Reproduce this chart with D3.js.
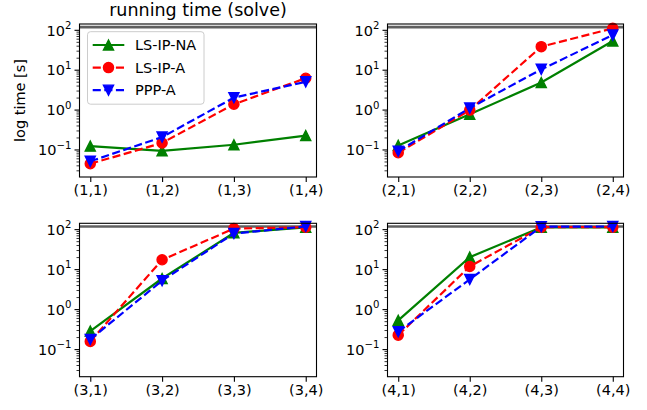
<!DOCTYPE html>
<html><head><meta charset="utf-8">
<script src="https://cdn.jsdelivr.net/npm/d3@7"></script>
<style>body{margin:0;background:#fff}svg{display:block;font-family:"DejaVu Sans",sans-serif}</style>
</head><body><svg id="c" width="647" height="410"></svg>
<script>
const categories = [
  ["(1,1)","(1,2)","(1,3)","(1,4)"],
  ["(2,1)","(2,2)","(2,3)","(2,4)"],
  ["(3,1)","(3,2)","(3,3)","(3,4)"],
  ["(4,1)","(4,2)","(4,3)","(4,4)"]
];
const seriesNames = ["LS-IP-NA","LS-IP-A","PPP-A"];
const lsipNA = [[0.125,0.095,0.135,0.23],[0.13,0.79,4.9,54],[0.29,6.0,83,114],[0.54,20.5,114,114]];
const lsipA  = [[0.045,0.15,1.4,6.3],[0.085,1.0,39,112],[0.16,17.6,106,115],[0.23,12,115,115]];
const pppA   = [[0.052,0.21,2.05,5.1],[0.093,1.12,10.5,76],[0.18,5.3,80,120],[0.28,5.7,118,120]];
const timeout = 120;
const yTicks = [0.1,1,10,100];
const yTickExp = ["\u22121","0","1","2"];
const title = "running time (solve)";
const yLabel = "log time [s]";

const svg = d3.select("#c");
const styles = [
  {color:"green", dash:null, marker:"up"},
  {color:"red", dash:"8.1,3.5", marker:"circle"},
  {color:"blue", dash:"8.1,3.5", marker:"down"}
];
const allSeries = [lsipNA, lsipA, pppA];
const panels = [
  {x0:79.5, x1:316.5, y0:24, y1:177},
  {x0:387.5, x1:623.5, y0:24, y1:177},
  {x0:79.5, x1:316.5, y0:223.3, y1:376.7},
  {x0:387.5, x1:623.5, y0:223.3, y1:376.7}
];
const FS = 14.5;

function marker(g, type, x, y, color, s) {
  if (type === "circle") {
    g.append("circle").attr("cx",x).attr("cy",y).attr("r",s/2-0.7).attr("fill",color).attr("stroke",color).attr("stroke-width",1.4);
  } else {
    const h = s/2 - 0.7;
    const sign = type === "up" ? 1 : -1;
    const pts = [[x, y - sign*h],[x - h, y + sign*h],[x + h, y + sign*h]];
    g.append("path").attr("d","M"+pts.map(p=>p.join(",")).join("L")+"Z").attr("fill",color).attr("stroke",color).attr("stroke-width",1.4).attr("stroke-linejoin","miter");
  }
}

panels.forEach((p, i) => {
  const g = svg.append("g");
  const x = d3.scalePoint().domain(categories[i]).range([p.x0, p.x1]).padding(0.15);
  const y = d3.scaleLog().domain([0.021, 144]).range([p.y1, p.y0]);
  const clipId = "clip"+i;
  svg.append("clipPath").attr("id",clipId).append("rect").attr("x",p.x0).attr("y",p.y0).attr("width",p.x1-p.x0).attr("height",p.y1-p.y0);
  // timeout line
  g.append("line").attr("x1",p.x0).attr("x2",p.x1).attr("y1",y(timeout)).attr("y2",y(timeout))
    .attr("stroke","#606060").attr("stroke-width",2.6);
  // series
  allSeries.forEach((s, k) => {
    const st = styles[k];
    const vals = s[i];
    const line = d3.line().x((d,j)=>x(categories[i][j])).y(d=>y(d));
    g.append("path").attr("d", line(vals)).attr("fill","none").attr("stroke",st.color)
      .attr("stroke-width",2.2).attr("stroke-dasharray",st.dash);
    vals.forEach((v,j)=> marker(g, st.marker, x(categories[i][j]), y(v), st.color, 11.5));
  });
  // frame
  g.append("rect").attr("x",p.x0).attr("y",p.y0).attr("width",p.x1-p.x0).attr("height",p.y1-p.y0)
    .attr("fill","none").attr("stroke","#000").attr("stroke-width",1.1);
  // x axis
  const xa = g.append("g").attr("transform",`translate(0,${p.y1})`)
    .call(d3.axisBottom(x).tickSizeInner(5).tickSizeOuter(0).tickPadding(3));
  xa.select(".domain").remove();
  xa.selectAll("line").attr("stroke","#000").attr("stroke-width",1.1);
  xa.selectAll("text").attr("font-size",FS).attr("fill","#000").attr("font-family","DejaVu Sans");
  // y minor ticks
  const minors = [];
  for (let e=-2;e<=2;e++) for (let m=2;m<=9;m++){ const v=m*Math.pow(10,e); if (v>=0.021 && v<=144) minors.push(v); }
  g.selectAll(null).data(minors).enter().append("line")
    .attr("x1",p.x0).attr("x2",p.x0-3).attr("y1",d=>y(d)).attr("y2",d=>y(d)).attr("stroke","#000").attr("stroke-width",0.8);
  g.selectAll(null).data(yTicks).enter().append("line")
    .attr("x1",p.x0).attr("x2",p.x0-5).attr("y1",d=>y(d)).attr("y2",d=>y(d)).attr("stroke","#000").attr("stroke-width",1.1);
  yTicks.forEach((t,k)=>{
    const tx = g.append("text").attr("x",p.x0-8).attr("y",y(t)+5.3).attr("text-anchor","end").attr("font-size",FS).attr("fill","#000");
    tx.append("tspan").text("10");
    tx.append("tspan").attr("dy",-6.5).attr("font-size",FS*0.7).text(yTickExp[k]);
  });
});

// title and y label
const p0 = panels[0];
svg.append("text").attr("x",(p0.x0+p0.x1)/2).attr("y",16).attr("text-anchor","middle").attr("font-size",17.5).attr("fill","#000").text(title);
svg.append("text").attr("transform",`translate(25,${(p0.y0+p0.y1)/2}) rotate(-90)`).attr("text-anchor","middle").attr("font-size",FS).attr("fill","#000").text(yLabel);

// legend
const lg = svg.append("g");
lg.append("rect").attr("x",87.5).attr("y",31.7).attr("width",116.5).attr("height",72.5).attr("rx",3)
  .attr("fill","#fff").attr("fill-opacity",0.8).attr("stroke","#ccc").attr("stroke-width",1);
seriesNames.forEach((n,k)=>{
  const st = styles[k];
  const yy = 45 + k*22.6;
  lg.append("line").attr("x1",92.7).attr("x2",124.3).attr("y1",yy).attr("y2",yy).attr("stroke",st.color).attr("stroke-width",2.2).attr("stroke-dasharray",st.dash);
  marker(lg, st.marker, 108.5, yy, st.color, 11.5);
  lg.append("text").attr("x",135).attr("y",yy+5.2).attr("font-size",FS).attr("fill","#000").text(n);
});
</script></body></html>
